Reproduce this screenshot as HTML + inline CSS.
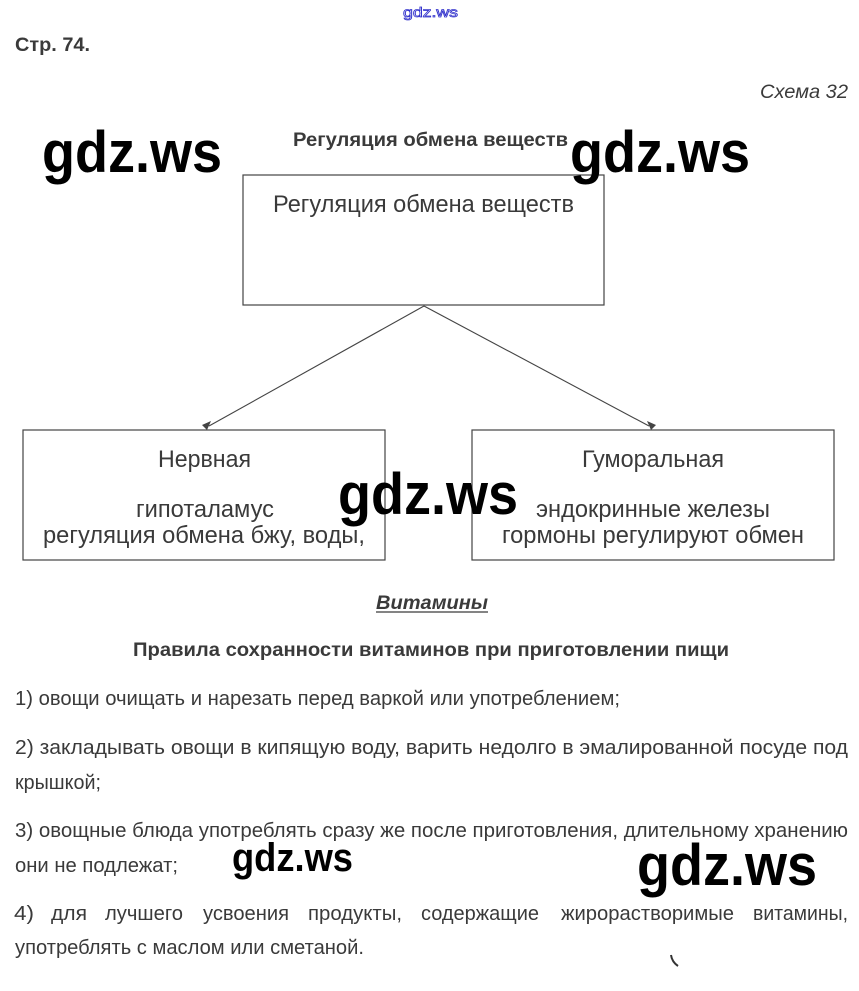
<!DOCTYPE html>
<html><head><meta charset="utf-8"><style>
html,body{margin:0;padding:0;background:#fff;}
svg{display:block;}
.t{font-family:"Liberation Sans",sans-serif;fill:#3a3a3a;}
.w{font-family:"Liberation Sans",sans-serif;fill:#000;font-weight:bold;}
</style></head><body>
<svg width="859" height="991" viewBox="0 0 859 991" xmlns="http://www.w3.org/2000/svg">
<text x="403" y="17" font-size="14" textLength="55" lengthAdjust="spacingAndGlyphs" style="font-family:'Liberation Sans',sans-serif;fill:#fff;stroke:#3333cc;stroke-width:0.8">gdz.ws</text>
<text class="t" x="15" y="51" font-size="19" font-weight="bold" textLength="75" lengthAdjust="spacingAndGlyphs">Стр. 74.</text>
<text class="t" x="760" y="98" font-size="19" font-style="italic" textLength="88" lengthAdjust="spacingAndGlyphs">Схема 32</text>
<text class="t" x="293" y="146" font-size="19" font-weight="bold" textLength="275" lengthAdjust="spacingAndGlyphs">Регуляция обмена веществ</text>

<rect x="243" y="175" width="361" height="130" fill="none" stroke="#444" stroke-width="1.2"/>
<text class="t" x="273" y="212" font-size="24" textLength="301" lengthAdjust="spacingAndGlyphs">Регуляция обмена веществ</text>

<line x1="424" y1="306" x2="209" y2="426" stroke="#444" stroke-width="1.1"/>
<line x1="424" y1="306" x2="649" y2="426" stroke="#444" stroke-width="1.1"/>
<polygon points="207,430 202,425 211,421" fill="#444"/>
<polygon points="651,430 647,421 656,425" fill="#444"/>

<rect x="23" y="430" width="362" height="130" fill="none" stroke="#444" stroke-width="1.2"/>
<text class="t" x="158" y="467" font-size="24" textLength="93" lengthAdjust="spacingAndGlyphs">Нервная</text>
<text class="t" x="136" y="517" font-size="24" textLength="138" lengthAdjust="spacingAndGlyphs">гипоталамус</text>
<text class="t" x="43" y="543" font-size="24" textLength="322" lengthAdjust="spacingAndGlyphs">регуляция обмена бжу, воды,</text>

<rect x="472" y="430" width="362" height="130" fill="none" stroke="#444" stroke-width="1.2"/>
<text class="t" x="582" y="467" font-size="24" textLength="142" lengthAdjust="spacingAndGlyphs">Гуморальная</text>
<text class="t" x="536" y="517" font-size="24" textLength="234" lengthAdjust="spacingAndGlyphs">эндокринные железы</text>
<text class="t" x="502" y="543" font-size="24" textLength="302" lengthAdjust="spacingAndGlyphs">гормоны регулируют обмен</text>

<text class="t" x="376" y="609" font-size="19" font-weight="bold" font-style="italic" textLength="112" lengthAdjust="spacingAndGlyphs">Витамины</text>
<line x1="376" y1="612" x2="488" y2="612" stroke="#3a3a3a" stroke-width="1.3"/>
<text class="t" x="133" y="656" font-size="19" font-weight="bold" textLength="596" lengthAdjust="spacingAndGlyphs">Правила сохранности витаминов при приготовлении пищи</text>

<text class="t" x="15" y="705" font-size="20" textLength="605" lengthAdjust="spacingAndGlyphs">1) овощи очищать и нарезать перед варкой или употреблением;</text>
<text class="t" x="15" y="754" font-size="20" textLength="833" lengthAdjust="spacingAndGlyphs">2) закладывать овощи в кипящую воду, варить недолго в эмалированной посуде под</text>
<text class="t" x="15" y="789" font-size="20" textLength="86" lengthAdjust="spacingAndGlyphs">крышкой;</text>
<text class="t" x="15" y="837" font-size="20" textLength="833" lengthAdjust="spacingAndGlyphs">3) овощные блюда употреблять сразу же после приготовления, длительному хранению</text>
<text class="t" x="15" y="872" font-size="20" textLength="163" lengthAdjust="spacingAndGlyphs">они не подлежат;</text>
<g class="t" font-size="20">
<text class="t" x="14" y="920" textLength="20" lengthAdjust="spacingAndGlyphs">4)</text>
<text class="t" x="51" y="920" textLength="36" lengthAdjust="spacingAndGlyphs">для</text>
<text class="t" x="105" y="920" textLength="78" lengthAdjust="spacingAndGlyphs">лучшего</text>
<text class="t" x="203" y="920" textLength="86" lengthAdjust="spacingAndGlyphs">усвоения</text>
<text class="t" x="308" y="920" textLength="94" lengthAdjust="spacingAndGlyphs">продукты,</text>
<text class="t" x="421" y="920" textLength="118" lengthAdjust="spacingAndGlyphs">содержащие</text>
<text class="t" x="561" y="920" textLength="173" lengthAdjust="spacingAndGlyphs">жирорастворимые</text>
<text class="t" x="753" y="920" textLength="95" lengthAdjust="spacingAndGlyphs">витамины,</text>
</g>
<text class="t" x="15" y="954" font-size="20" textLength="349" lengthAdjust="spacingAndGlyphs">употреблять с маслом или сметаной.</text>
<path d="M671 955 Q672 962 678 966" stroke="#333" stroke-width="2" fill="none"/>

<text class="w" x="42" y="172" font-size="58" textLength="180" lengthAdjust="spacingAndGlyphs">gdz.ws</text>
<text class="w" x="570" y="172" font-size="58" textLength="180" lengthAdjust="spacingAndGlyphs">gdz.ws</text>
<text class="w" x="338" y="514" font-size="58" textLength="180" lengthAdjust="spacingAndGlyphs">gdz.ws</text>
<text class="w" x="232" y="871" font-size="40" textLength="121" lengthAdjust="spacingAndGlyphs">gdz.ws</text>
<text class="w" x="637" y="885" font-size="58" textLength="180" lengthAdjust="spacingAndGlyphs">gdz.ws</text>
</svg>
</body></html>
